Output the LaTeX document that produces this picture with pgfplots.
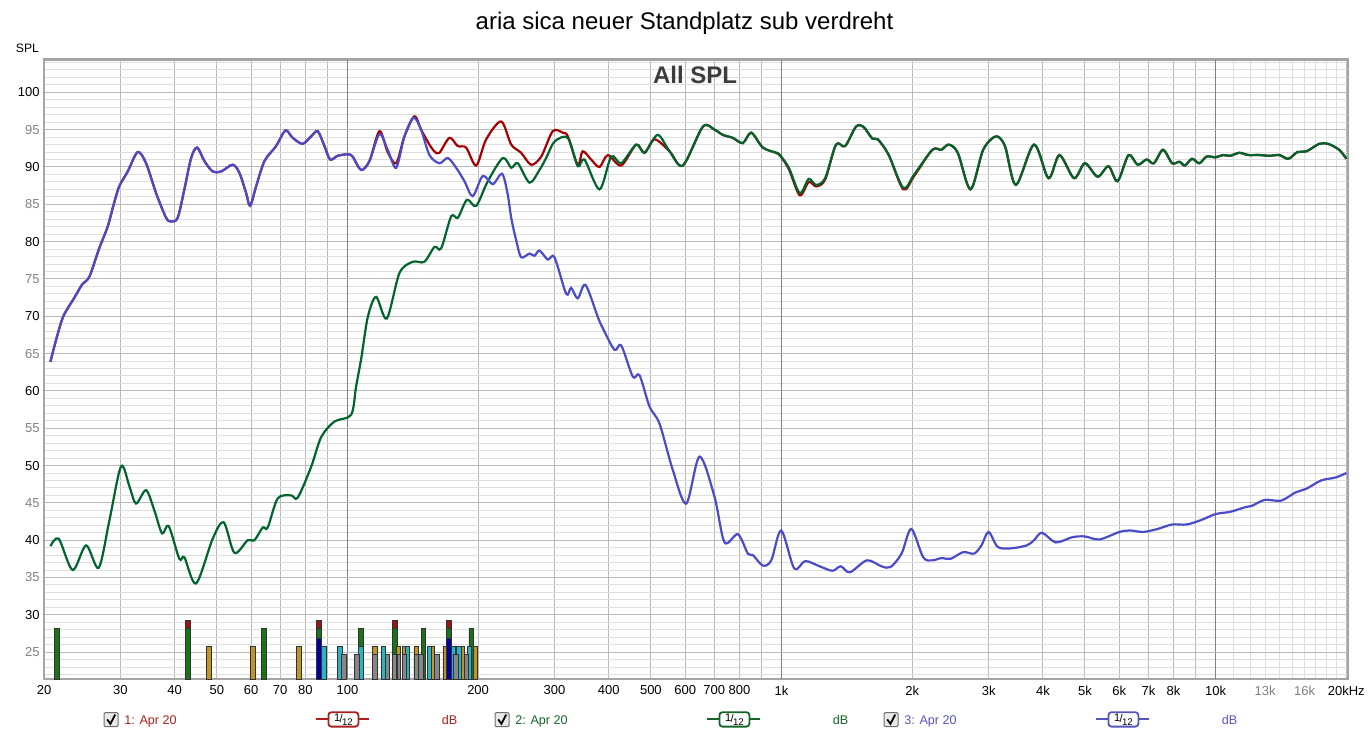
\documentclass[border=0pt]{standalone}
\usepackage{pgfplots}
\pgfplotsset{compat=1.18}
\usepackage{fontspec}
\setmainfont{Liberation Sans}
\definecolor{cRed}{RGB}{165,0,0}
\definecolor{cGreen}{RGB}{0,100,45}
\definecolor{cBlue}{RGB}{75,75,200}
\definecolor{tRed}{RGB}{170,30,30}
\definecolor{tGreen}{RGB}{20,100,40}
\definecolor{tBlue}{RGB}{85,85,190}
\definecolor{gridMinor}{RGB}{222,222,222}
\definecolor{gridMajor}{RGB}{185,185,185}
\definecolor{gridDecade}{RGB}{130,130,130}
\definecolor{frameGray}{RGB}{165,165,165}
\definecolor{tickgray}{RGB}{128,128,128}
\definecolor{bGreen}{RGB}{25,115,25}
\definecolor{bRed}{RGB}{150,20,20}
\definecolor{bGold}{RGB}{190,150,40}
\definecolor{bCyan}{RGB}{40,180,192}
\definecolor{bBlue}{RGB}{0,0,160}
\definecolor{bGray}{RGB}{135,135,135}
\definecolor{barEdge}{RGB}{50,50,50}
\definecolor{boxEdge}{RGB}{110,110,110}
\definecolor{boxFill}{RGB}{232,232,232}
\definecolor{allspl}{RGB}{60,60,60}
\newcommand\legitem[3]{%
 \begin{scope}[xshift=#1]
  \draw[draw=boxEdge, fill=boxFill, line width=0.5pt, rounded corners=0.6pt] (52pt,4.2pt) rectangle (59pt,11.2pt);
  \draw[line width=0.9pt] (53.6pt,7.8pt) -- (55.2pt,5.6pt) -- (57.6pt,10.2pt);
  \node[anchor=base west, inner sep=0pt, text=#2, font=\fontsize{6.3}{7}\selectfont] at (62pt,5.5pt) {#3};
  \draw[#2, line width=1pt] (158pt,7.8pt) -- (184.6pt,7.8pt);
  \draw[#2, line width=0.9pt, fill=white, rounded corners=1.5pt] (164.2pt,4.2pt) rectangle (179.2pt,11.4pt);
  \node[inner sep=0pt, font=\fontsize{5.5}{6}\selectfont] at (171.7pt,7.8pt) {\raisebox{0.8pt}{1}\kern-0.3pt/\kern-0.3pt\raisebox{-1.2pt}{\fontsize{4.8}{5}\selectfont 12}};
  \node[anchor=base, inner sep=0pt, text=#2, font=\fontsize{6.3}{7}\selectfont] at (224.8pt,5.5pt) {dB};
 \end{scope}}
\begin{document}
\begin{tikzpicture}
\useasboundingbox (0,0) rectangle (684.5pt,367.5pt);
\begin{axis}[
  at={(22pt,28pt)}, anchor=south west,
  width=652pt, height=309.75pt, scale only axis,
  xmode=log, xmin=20, xmax=20180, ymin=21.4, ymax=104.4,
  xtick={20,30,40,50,60,70,80,90,200,300,400,500,600,700,800,900,2000,3000,4000,5000,6000,7000,8000,9000,20000},
  xticklabels={20,30,40,50,60,70,80,,200,300,400,500,600,700,800,,2k,3k,4k,5k,6k,7k,8k,,20kHz},
  extra x ticks={100,1000,10000},
  extra x tick labels={100,1k,10k},
  extra x tick style={grid=major, major grid style={draw=gridDecade, line width=0.5pt}},
  minor xtick={11000,12000,13000,14000,15000,16000,17000,18000,19000},
  ytick={30,40,50,60,70,80,90,100},
  yticklabels={30,40,50,60,70,80,90,100},
  extra y ticks={25,35,45,55,65,75,85,95},
  extra y tick labels={25,35,45,55,65,75,85,95},
  extra y tick style={grid=major, yticklabel style={text=tickgray}},
  minor ytick={22,23,...,104},
  grid=both,
  major grid style={draw=gridMajor, line width=0.5pt},
  minor grid style={draw=gridMinor, line width=0.5pt},
  major tick length=0pt, minor tick length=0pt,
  tick label style={font=\fontsize{6.5}{7}\selectfont, inner sep=0pt},
  xticklabel style={anchor=north, yshift=-3.2pt},
  yticklabel style={anchor=east, xshift=-2pt},
  axis line style={draw=frameGray, line width=1.3pt},
]
% bars
\addplot[ybar, bar width=2.25pt, bar shift=0pt, fill=bRed, draw=barEdge, line width=0.4pt] coordinates {(42.86,29.2)(86.06,29.2)(128.6,29.2)(171.4,29.2)};
\addplot[ybar, bar width=2.25pt, bar shift=0pt, fill=bGreen, draw=barEdge, line width=0.4pt] coordinates {(21.39,28.2)(42.86,28.2)(64.22,28.2)(86.06,28.2)(107.3,28.2)(128.6,28.2)(149.7,28.2)(171.4,28.2)(192.8,28.2)};
\addplot[ybar, bar width=2.25pt, bar shift=0pt, fill=bGold, draw=barEdge, line width=0.4pt] coordinates {(47.97,25.8)(60.50,25.8)(77.30,25.8)(115.6,25.8)(131.1,25.8)(135.3,25.8)(144.0,25.8)(156.6,25.8)(168.0,25.8)(183.8,25.8)(197.2,25.8)};
\addplot[ybar, bar width=2.25pt, bar shift=0pt, fill=bCyan, draw=barEdge, line width=0.4pt] coordinates {(88.19,25.8)(96.1,25.8)(107.3,25.8)(121.0,25.8)(137.5,25.8)(154.5,25.8)(174.9,25.8)(180.5,25.8)(191.0,25.8)};
\addplot[ybar, bar width=2.25pt, bar shift=0pt, fill=bBlue, draw=barEdge, line width=0.4pt] coordinates {(86.06,26.9)(171.4,26.9)};
\addplot[ybar, bar width=2.25pt, bar shift=0pt, fill=bGray, draw=barEdge, line width=0.4pt] coordinates {(98.26,24.7)(105.1,24.7)(115.6,24.7)(123.6,24.7)(128.6,24.7)(131.1,24.7)(135.3,24.7)(144.0,24.7)(147.7,24.7)(160.8,24.7)(178.0,24.7)(187.7,24.7)};
% red: 1
\addplot[cRed, line width=1.1pt, smooth, mark=none] coordinates {
(20.69,63.9)(21.36,67.0)(22.16,70.0)(23.50,72.5)(24.51,74.3)(25.44,75.3)(26.80,79.1)(28.03,82.0)(28.89,84.8)(29.80,87.4)(31.18,89.4)(32.87,92.0)(34.37,90.5)(36.24,86.5)(38.22,83.2)(39.25,82.7)(40.64,83.2)(42.11,87.0)(43.64,91.2)(45.05,92.6)(46.83,90.8)(48.93,89.4)(51.17,89.4)(54.41,90.3)(56.39,89.2)(58.43,86.5)(59.68,84.8)(61.61,87.4)(64.40,90.8)(68.49,92.8)(71.96,94.9)(74.82,93.9)(78.88,93.1)(82.46,94.1)(85.44,94.8)(88.52,92.8)(91.24,91.0)(94.98,91.5)(100.2,91.7)(102.8,91.4)
(107.5,89.6)(112.4,90.8)(118.5,94.8)(123.8,92.0)(129.5,90.5)(135.3,94.1)(142.7,96.8)(147.8,95.0)(154.5,93.0)(158.5,92.1)(162.9,91.9)(171.8,93.9)(179.6,92.8)(187.7,92.6)(198.0,90.2)(208.7,93.7)(226.0,96.1)(238.4,93.0)(251.3,91.9)(265.0,90.3)(279.5,91.4)(297.2,94.8)(313.4,94.6)(321.9,94.1)(339.3,90.3)(348.4,92.1)(364.3,91.0)(380.8,90.0)(398.0,91.6)(427.2,90.2)(462.6,93.0)(483.5,91.9)(509.9,93.7)(552.2,92.1)(592.5,90.2)(658.8,95.4)(701.0,95.0)(732.4,94.3)(772.4,93.9)(814.4,93.2)(851.5,94.6)(905.6,92.6)(972.3,91.9)(990.6,91.6)(1039.5,89.7)(1101.3,86.2)(1155,88.0)(1201,87.4)(1260,88.3)(1335,93.0)(1401,92.8)(1484,95.4)(1543,95.4)(1619,93.8)(1667,93.7)(1766,91.6)(1908,87.0)(2021,88.8)(2225,92.3)(2334,92.3)(2427,93.0)(2547,91.9)(2725,87.0)(2914,92.3)(3117,94.1)(3271,92.8)(3467,87.6)(3816,93.0)(4121,88.5)(4368,91.6)(4718,88.5)(4998,90.5)(5346,88.7)(5665,90.1)(5945,88.1)(6301,91.6)(6611,90.3)(6934,91.0)(7209,90.5)(7566,92.3)(7939,90.5)(8250,90.7)(8492,90.2)(8822,91.1)(9171,90.5)(9534,91.4)(10000,91.3)(10395,91.6)(10800,91.5)(11334,91.9)(11893,91.6)(12602,91.6)(13350,91.5)(14014,91.6)(14706,91.1)(15434,92.0)(16190,92.1)(17324,93.1)(18162,93.1)(19257,92.3)(20010,91.1)};
% green: 2
\addplot[cGreen, line width=1.1pt, smooth, mark=none] coordinates {
(20.69,39.2)(21.62,40.2)(23.28,36.0)(25.00,39.3)(26.73,36.3)(28.30,42.7)(30.10,49.9)(31.50,47.1)(32.59,44.9)(34.37,46.7)(35.91,44.0)(37.41,40.9)(38.75,41.9)(41.00,37.5)(42.11,37.7)(44.81,34.2)(48.93,40.2)(51.88,42.4)(54.91,38.3)(58.93,40.0)(61.06,40.0)(63.81,41.7)(65.52,41.7)(69.09,45.6)(74.18,46.0)(76.82,45.7)(82.46,49.8)(86.98,53.8)(93.33,55.9)(101.98,56.8)(104.7,60.6)(107.7,64.5)(111.4,69.9)(116.4,72.6)(123.2,69.7)(131.8,75.8)(141.4,77.3)(150.4,77.3)(158.7,79.3)(164.4,79.1)(173.4,83.4)(179.6,83.2)(188.5,85.6)(198.0,84.8)(210.2,88.0)(227.9,91.2)(238.4,89.9)(246.9,90.5)(262.7,87.9)(276.9,89.6)(286.9,91.2)(299.9,93.4)(321.9,93.9)(339.3,90.1)(351.6,91.0)(380.8,87.0)(405.2,91.4)(427.2,90.5)(462.6,93.0)(483.5,91.9)(518.1,94.3)(552.2,92.1)(592.5,90.2)(658.8,95.4)(701.0,95.0)(732.4,94.3)(772.4,93.9)(814.4,93.2)(851.5,94.6)(905.6,92.6)(972.3,91.9)(990.6,91.6)(1039.5,89.9)(1101.3,86.5)(1155,88.4)(1201,87.6)(1260,88.5)(1335,93.0)(1401,92.8)(1484,95.4)(1543,95.4)(1619,93.8)(1667,93.7)(1766,91.6)(1908,87.2)(2021,89.0)(2225,92.3)(2334,92.3)(2427,93.0)(2547,91.9)(2725,87.0)(2914,92.3)(3117,94.1)(3271,92.8)(3467,87.6)(3816,93.0)(4121,88.5)(4368,91.6)(4718,88.5)(4998,90.5)(5346,88.7)(5665,90.1)(5945,88.1)(6301,91.6)(6611,90.3)(6934,91.0)(7209,90.5)(7566,92.3)(7939,90.5)(8250,90.7)(8492,90.2)(8822,91.1)(9171,90.5)(9534,91.4)(10000,91.3)(10395,91.6)(10800,91.5)(11334,91.9)(11893,91.6)(12602,91.6)(13350,91.5)(14014,91.6)(14706,91.1)(15434,92.0)(16190,92.1)(17324,93.1)(18162,93.1)(19257,92.3)(20010,91.1)};
% blue: 3
\addplot[cBlue, line width=1.1pt, smooth, mark=none] coordinates {
(20.69,63.9)(21.36,67.0)(22.16,70.0)(23.50,72.5)(24.51,74.3)(25.44,75.3)(26.80,79.1)(28.03,82.0)(28.89,84.8)(29.80,87.4)(31.18,89.4)(32.87,92.0)(34.37,90.5)(36.24,86.5)(38.22,83.2)(39.25,82.7)(40.64,83.2)(42.11,87.0)(43.64,91.2)(45.05,92.6)(46.83,90.8)(48.93,89.4)(51.17,89.4)(54.41,90.3)(56.39,89.2)(58.43,86.5)(59.68,84.8)(61.61,87.4)(64.40,90.8)(68.49,92.8)(71.96,94.9)(74.82,93.9)(78.88,93.1)(82.46,94.1)(85.44,94.8)(88.52,92.8)(91.24,91.0)(94.98,91.5)(100.2,91.7)(102.8,91.4)(107.5,89.6)(112.4,90.8)(118.5,94.4)(123.8,92.3)(129.5,89.9)(135.3,94.1)(142.0,96.6)(147.8,95.0)(154.5,91.6)(162.9,90.5)(170.3,91.2)(178.0,89.9)(186.0,88.1)(194.4,86.1)(205.0,88.8)(216.2,87.7)(227.0,89.1)(233.7,86.5)(238.7,83.0)(245.2,80.0)(251.3,77.9)(262.7,78.4)(269.7,78.1)(276.9,78.8)(289.4,77.6)(299.9,77.9)(319.1,73.0)(327.6,73.8)(339.3,72.4)(353.5,74.2)(377.4,69.9)(387.5,68.4)(412.3,65.5)(427.2,66.1)(454.4,61.9)(470.8,62.1)(496.5,57.9)(523.5,55.6)(561.7,49.4)(603.2,44.9)(647.4,51.2)(701.0,45.8)(739.2,39.7)(793.2,40.8)(836.5,38.2)(858.9,38.0)(905.6,36.6)(947.0,37.3)(998.4,41.3)(1069.7,36.2)(1133.4,37.2)(1224,36.5)(1309.6,35.9)(1369,36.5)(1437,35.7)(1573,37.3)(1699,36.5)(1783,36.4)(1890,38.2)(1990,41.5)(2120,37.7)(2225,37.3)(2334,37.6)(2450,37.5)(2621,38.4)(2777,38.2)(2887,39.3)(2999,41.1)(3147,39.1)(3367,38.9)(3673,39.3)(3816,40.0)(3981,41.0)(4283,39.7)(4673,40.4)(4998,40.5)(5398,40.1)(6002,41.1)(6361,41.3)(6804,41.1)(7350,41.5)(7936,42.1)(8574,42.1)(9261,42.7)(10000,43.5)(10800,43.8)(11670,44.4)(12120,44.6)(12975,45.4)(14150,45.3)(15280,46.4)(16190,46.9)(17500,48.0)(18895,48.4)(20010,49.0)};
\end{axis}
\node[anchor=north, inner sep=0pt, text=tickgray, font=\fontsize{6.5}{7}\selectfont] at (632.55pt,24.8pt) {13k};
\node[anchor=north, inner sep=0pt, text=tickgray, font=\fontsize{6.5}{7}\selectfont] at (652.3pt,24.8pt) {16k};
\node[anchor=base, inner sep=0pt, font=\fontsize{12}{14}\selectfont] at (342.25pt,352.5pt) {aria sica neuer Standplatz sub verdreht};
\node[anchor=base, inner sep=0pt, font=\fontsize{6.1}{7}\selectfont] at (13.75pt,341.3pt) {SPL};
\node[anchor=base, inner sep=0pt, text=allspl, font=\fontsize{12}{14}\selectfont\bfseries] at (347.5pt,325.75pt) {All SPL};
\legitem{0pt}{tRed}{1: Apr 20}
\legitem{195.5pt}{tGreen}{2: Apr 20}
\legitem{390pt}{tBlue}{3: Apr 20}
\end{tikzpicture}
\end{document}
